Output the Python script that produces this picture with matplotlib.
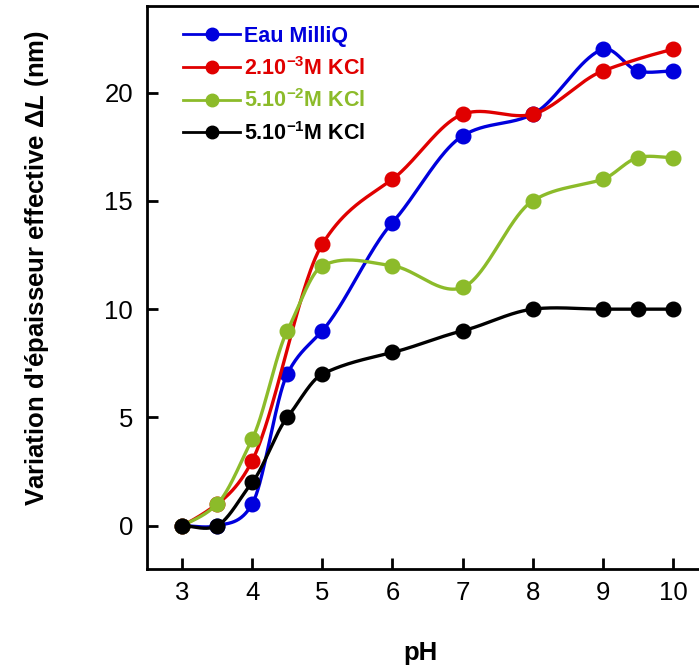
import numpy as np
import matplotlib
matplotlib.use("Agg")
import matplotlib.pyplot as plt

plt.rcParams['font.family'] = ['Liberation Sans', 'DejaVu Sans']
plt.rcParams['mathtext.fontset'] = 'custom'
plt.rcParams['mathtext.rm'] = 'Liberation Sans:bold'
plt.rcParams['mathtext.bf'] = 'Liberation Sans:bold'
plt.rcParams['mathtext.it'] = 'Liberation Sans:bold:italic'

# ---- data ----
ph_milliq = [3, 3.5, 4, 4.5, 5, 6, 7, 8, 9, 9.5, 10]
dl_milliq = [0, 0, 1, 7, 9, 14, 18, 19, 22, 21, 21]

ph_kcl3 = [3, 3.5, 4, 5, 6, 7, 8, 9, 10]
dl_kcl3 = [0, 1, 3, 13, 16, 19, 19, 21, 22]

ph_kcl2 = [3, 3.5, 4, 4.5, 5, 6, 7, 8, 9, 9.5, 10]
dl_kcl2 = [0, 1, 4, 9, 12, 12, 11, 15, 16, 17, 17]

ph_kcl1 = [3, 3.5, 4, 4.5, 5, 6, 7, 8, 9, 9.5, 10]
dl_kcl1 = [0, 0, 2, 5, 7, 8, 9, 10, 10, 10, 10]

labels = ['Eau MilliQ', r'2.10$^{\mathbf{-3}}$M KCl', r'5.10$^{\mathbf{-2}}$M KCl', r'5.10$^{\mathbf{-1}}$M KCl']
colors = ['#0000dd', '#e00000', '#8cbb2a', '#000000']
xticks = [3, 4, 5, 6, 7, 8, 9, 10]
yticks = [0, 5, 10, 15, 20]


def smooth_curve(x, y, tension=0.8, n=60):
    """Cardinal (Catmull-Rom like) Hermite curve through the data points."""
    x = np.asarray(x, float)
    y = np.asarray(y, float)
    m = len(x)
    slopes = np.zeros(m)
    slopes[0] = (y[1] - y[0]) / (x[1] - x[0])
    slopes[-1] = (y[-1] - y[-2]) / (x[-1] - x[-2])
    for i in range(1, m - 1):
        slopes[i] = (y[i + 1] - y[i - 1]) / (x[i + 1] - x[i - 1])
    slopes *= tension
    xs_all, ys_all = [], []
    for i in range(m - 1):
        h = x[i + 1] - x[i]
        t = np.linspace(0, 1, n, endpoint=(i == m - 2))
        h00 = 2 * t**3 - 3 * t**2 + 1
        h10 = t**3 - 2 * t**2 + t
        h01 = -2 * t**3 + 3 * t**2
        h11 = t**3 - t**2
        xs_all.append(x[i] + t * h)
        ys_all.append(h00 * y[i] + h10 * h * slopes[i] + h01 * y[i + 1] + h11 * h * slopes[i + 1])
    return np.concatenate(xs_all), np.concatenate(ys_all)


fig = plt.figure(figsize=(6.99, 6.66), dpi=100)
ax = fig.add_axes([147 / 699, 1 - 569 / 666, (708 - 147) / 699, (569 - 6) / 666])

series = [(ph_milliq, dl_milliq), (ph_kcl3, dl_kcl3), (ph_kcl2, dl_kcl2), (ph_kcl1, dl_kcl1)]
handles = []
for (xv, yv), c, lab in zip(series, colors, labels):
    xs, ys = smooth_curve(xv, yv)
    ax.plot(xs, ys, color=c, lw=2.4, solid_capstyle='round')
    ax.plot(xv, yv, 'o', color=c, ms=10.5, mec=c)
    h, = ax.plot([], [], '-o', color=c, lw=2.0, ms=9, label=lab)
    handles.append(h)

ax.set_xlim(2.5, 10.5)
ax.set_ylim(-2, 24)
ax.set_xticks(xticks)
ax.set_yticks(yticks)
ax.tick_params(direction='in', length=8, width=2, labelsize=18.5)
ax.tick_params(axis='x', pad=8.5)
ax.tick_params(axis='y', pad=10)
for s in ax.spines.values():
    s.set_linewidth(2)

ax.set_xlabel('pH', fontsize=18.5, fontweight='bold')
ax.xaxis.set_label_coords(0.487, -0.127)
ax.set_ylabel(r"Variation d'épaisseur effective $\mathit{\Delta L}$ (nm)", fontsize=18.5, fontweight='bold')
ax.yaxis.set_label_coords(-0.172, 0.535)

leg = ax.legend(handles=handles, loc='upper left', bbox_to_anchor=(183 / 699, 1 - 26 / 666),
                bbox_transform=fig.transFigure, frameon=False, prop={'size': 15.5, 'weight': 'bold'},
                handlelength=2.65, handletextpad=0.2, labelspacing=0.45, borderaxespad=0, borderpad=0)
for t, c in zip(leg.get_texts(), colors):
    t.set_color(c)

fig.savefig('out.png', dpi=100)
